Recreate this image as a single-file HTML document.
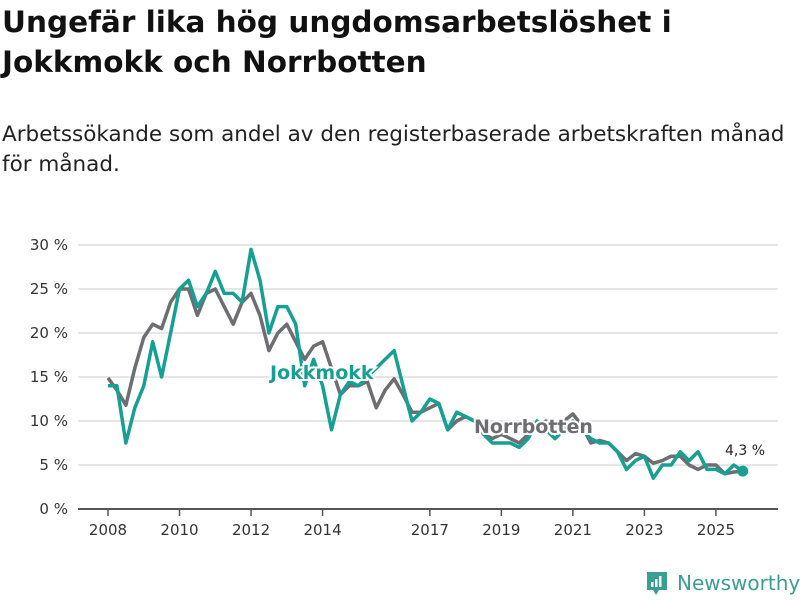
<!DOCTYPE html>
<html><head><meta charset="utf-8"><style>
body{margin:0;background:#fff;font-family:"DejaVu Sans","Liberation Sans",sans-serif;}
#wrap{position:relative;width:800px;height:600px;overflow:hidden}
h1{position:absolute;left:2px;top:2px;margin:0;font-size:29.5px;line-height:40px;font-weight:bold;color:#111}
p.sub{position:absolute;left:2px;top:120px;margin:0;font-size:21.5px;line-height:30px;color:#222}
svg text{font-family:"DejaVu Sans","Liberation Sans",sans-serif}
</style></head><body><div id="wrap">
<h1>Ungefär lika hög ungdomsarbetslöshet i<br>Jokkmokk och Norrbotten</h1>
<p class="sub">Arbetssökande som andel av den registerbaserade arbetskraften månad<br>för månad.</p>
<svg id="chart" width="800" height="600" style="position:absolute;left:0;top:0"></svg>
<div style="position:absolute;left:645px;top:570px;display:flex;align-items:center">
<svg width="24" height="26"><path d="M2 2h20v18h-8l-3 5-3-5H2z" fill="#3a9e95"/><rect x="6" y="12" width="2.5" height="5" fill="#fff"/><rect x="10" y="9" width="2.5" height="8" fill="#fff"/><rect x="14" y="6" width="2.5" height="11" fill="#fff"/></svg>
<span style="font-size:20px;color:#3a9e95;margin-left:8px;font-family:'DejaVu Sans',sans-serif">Newsworthy</span></div>
</div>
<script>
const yTicks=[0,5,10,15,20,25,30];
const xTicks=[2008,2010,2012,2014,2017,2019,2021,2023,2025];
const startYear=2008;
const norrbotten=[14.9,13.5,11.8,16,19.5,21,20.5,23.5,25,25,22,24.5,25,23,21,23.5,24.5,22,18,20,21,19,17,18.5,19,16,13,14,14,14.5,11.5,13.5,14.8,13,11,11,11.5,12,9,10,10.5,10,8.5,8,8.5,8,7.5,8.5,9.5,10,9.5,10,10.8,9.5,7.5,7.8,7.5,6.5,5.5,6.3,6,5.2,5.5,6,6,5,4.5,5,5,4,4.2,4.3];
const jokkmokk=[14,14,7.5,11.5,14,19,15,20,25,26,23,24.5,27,24.5,24.5,23.5,29.5,26,20,23,23,21,14,17,14,9,13,14.5,14,15,16,17,18,14,10,11,12.5,12,9,11,10.5,10,8.5,7.5,7.5,7.5,7,8,10,9,8,9,10,9,8,7.5,7.5,6.5,4.5,5.5,6,3.5,5,5,6.5,5.5,6.5,4.5,4.5,4,5,4.3];
const svg=document.getElementById('chart');const NS='http://www.w3.org/2000/svg';
const x=t=>108+(t-2008)*35.76;const y=v=>509-v*8.8;
function mk(tag,attrs,parent){const e=document.createElementNS(NS,tag);for(const k in attrs)e.setAttribute(k,attrs[k]);(parent||svg).appendChild(e);return e;}
yTicks.forEach(v=>{const l=mk('line',{x1:78,x2:778,y1:y(v),y2:y(v),stroke:v===0?'#555':'#ddd','stroke-width':v===0?2:1.5});


const t=mk('text',{x:68,y:y(v)+5,'text-anchor':'end','font-size':15,fill:'#333'});t.textContent=v+' %';

});
xTicks.forEach(yr=>{const l=mk('line',{x1:x(yr),x2:x(yr),y1:510,y2:516,stroke:'#555','stroke-width':1.5});


const t=mk('text',{x:x(yr),y:535,'text-anchor':'middle','font-size':15,fill:'#333'});t.textContent=yr;

});
function line(arr,color,name){const d=arr.map((v,i)=>(i?'L':'M')+x(startYear+i*0.25).toFixed(1)+' '+y(v).toFixed(1)).join(' ');
const p=mk('path',{d:d,fill:'none',stroke:color,'stroke-width':3.5,'stroke-linejoin':'round'});

}
line(norrbotten,'#6d6d72','norrbotten-line');
line(jokkmokk,'#16a094','jokkmokk-line');
const last=jokkmokk.length-1;
const dot=mk('circle',{cx:x(startYear+last*0.25),cy:y(jokkmokk[last]),r:5.5,fill:'#16a094'});


const lv=mk('text',{x:745,y:455,'text-anchor':'middle','font-size':14,fill:'#222'});lv.textContent='4,3 %';


function lab(txt,tx,ty,color,name){const t=mk('text',{x:tx,y:ty,'font-size':19,'font-weight':'bold',fill:color,stroke:'#fff','stroke-width':4,'paint-order':'stroke'});t.textContent=txt;

}
lab('Jokkmokk',270,379,'#16a094','jokkmokk-label');
lab('Norrbotten',474,433,'#6d6d72','norrbotten-label');
</script></body></html>
